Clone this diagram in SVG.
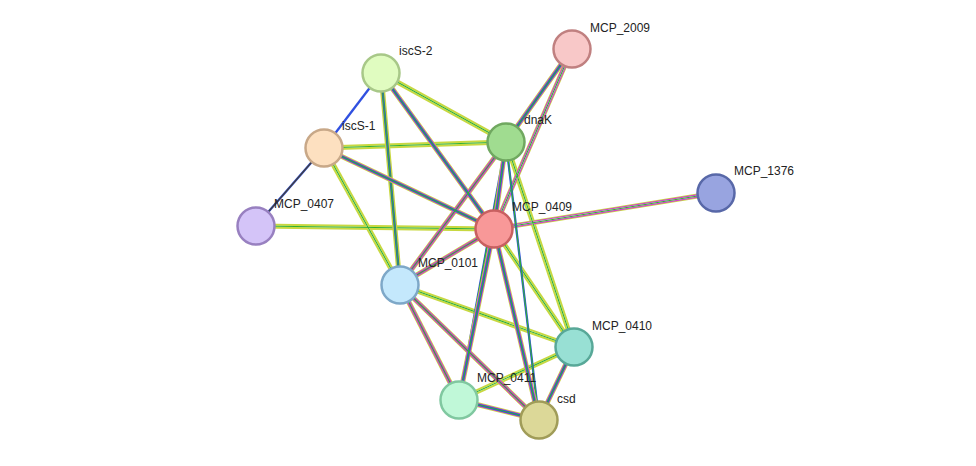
<svg xmlns="http://www.w3.org/2000/svg" width="976" height="466" viewBox="0 0 976 466">
<style>
.y{stroke:#c8d840;stroke-width:5;fill:none}
.m{stroke:#d040d0;stroke-width:3.6;fill:none}
.b{stroke:#3050e0;stroke-width:2.3;fill:none}
.g{stroke:#30b030;stroke-width:1.1;fill:none}
.w{stroke:#fff;stroke-width:1.2;fill:none}
.k{stroke:#404040;stroke-width:1.3;fill:none}
.n circle{stroke-width:2.5}
text{font-family:"Liberation Sans",Arial,sans-serif;font-size:12px;fill:#222}
</style>
<defs>
<line id="e_i2_i1" x1="381" y1="73" x2="324" y2="148"/>
<line id="e_i2_d" x1="381" y1="73" x2="506" y2="142"/>
<line id="e_i2_09" x1="381" y1="73" x2="494" y2="229"/>
<line id="e_i2_01" x1="381" y1="73" x2="400" y2="285"/>
<line id="e_i1_d" x1="324" y1="148" x2="506" y2="142"/>
<line id="e_i1_09" x1="324" y1="148" x2="494" y2="229"/>
<line id="e_i1_01" x1="324" y1="148" x2="400" y2="285"/>
<line id="e_i1_07" x1="324" y1="148" x2="256" y2="226"/>
<line id="e_07_09" x1="256" y1="226" x2="494" y2="229"/>
<line id="e_d_20" x1="506" y1="142" x2="572" y2="49"/>
<line id="e_09_20" x1="494" y1="229" x2="572" y2="49"/>
<line id="e_d_09" x1="506" y1="142" x2="494" y2="229"/>
<line id="e_d_01" x1="506" y1="142" x2="400" y2="285"/>
<line id="e_d_10" x1="506" y1="142" x2="574" y2="347"/>
<line id="e_d_11" x1="506" y1="142" x2="459" y2="400"/>
<line id="e_d_cs" x1="506" y1="142" x2="539" y2="420"/>
<line id="e_09_13" x1="494" y1="229" x2="716" y2="193"/>
<line id="e_09_01" x1="494" y1="229" x2="400" y2="285"/>
<line id="e_09_10" x1="494" y1="229" x2="574" y2="347"/>
<line id="e_09_11" x1="494" y1="229" x2="459" y2="400"/>
<line id="e_09_cs" x1="494" y1="229" x2="539" y2="420"/>
<line id="e_01_10" x1="400" y1="285" x2="574" y2="347"/>
<line id="e_01_11" x1="400" y1="285" x2="459" y2="400"/>
<line id="e_01_cs" x1="400" y1="285" x2="539" y2="420"/>
<line id="e_10_11" x1="574" y1="347" x2="459" y2="400"/>
<line id="e_10_cs" x1="574" y1="347" x2="539" y2="420"/>
<line id="e_11_cs" x1="459" y1="400" x2="539" y2="420"/>
</defs>
<rect width="976" height="466" fill="#fff"/>
<g id="connectors">
<g class="y"><use href="#e_i2_d"/><use href="#e_i1_01"/><use href="#e_07_09"/><use href="#e_d_10"/><use href="#e_09_10"/><use href="#e_01_10"/><use href="#e_10_11"/><use href="#e_i1_d"/><use href="#e_09_13"/><use href="#e_09_20"/></g>
<g class="m"><use href="#e_09_13"/><use href="#e_09_20"/></g>
<g class="w"><use href="#e_i2_d"/><use href="#e_i1_01"/><use href="#e_07_09"/><use href="#e_d_10"/><use href="#e_09_10"/><use href="#e_01_10"/><use href="#e_10_11"/><use href="#e_i1_d"/><use href="#e_09_13"/><use href="#e_09_20"/></g>
<g class="g"><use href="#e_i2_d"/><use href="#e_i1_01"/><use href="#e_07_09"/><use href="#e_d_10"/><use href="#e_09_10"/><use href="#e_01_10"/><use href="#e_10_11"/><use href="#e_i1_d"/><use href="#e_09_13"/><use href="#e_09_20"/></g>
<g class="y"><use href="#e_i2_01"/></g>
<g class="b"><use href="#e_i2_i1"/><use href="#e_i2_01"/><use href="#e_d_11"/><use href="#e_d_cs"/><use href="#e_i1_07"/></g>
<g class="g"><use href="#e_i2_01"/><use href="#e_d_11"/><use href="#e_d_cs"/></g>
<g class="k"><use href="#e_i1_07"/></g>
<g class="y"><use href="#e_i2_09"/><use href="#e_i1_09"/><use href="#e_d_20"/><use href="#e_d_09"/><use href="#e_d_01"/><use href="#e_09_01"/><use href="#e_09_11"/><use href="#e_09_cs"/><use href="#e_01_11"/><use href="#e_01_cs"/><use href="#e_10_cs"/><use href="#e_11_cs"/></g>
<g class="m"><use href="#e_i2_09"/><use href="#e_i1_09"/><use href="#e_d_20"/><use href="#e_d_09"/><use href="#e_d_01"/><use href="#e_09_01"/><use href="#e_09_11"/><use href="#e_09_cs"/><use href="#e_01_11"/><use href="#e_01_cs"/><use href="#e_10_cs"/><use href="#e_11_cs"/></g>
<g class="b"><use href="#e_i2_09"/><use href="#e_i1_09"/><use href="#e_d_20"/><use href="#e_d_09"/><use href="#e_09_11"/><use href="#e_09_cs"/><use href="#e_10_cs"/><use href="#e_11_cs"/></g>
<g class="g"><use href="#e_i2_09"/><use href="#e_i1_09"/><use href="#e_d_20"/><use href="#e_d_09"/><use href="#e_d_01"/><use href="#e_09_01"/><use href="#e_09_11"/><use href="#e_09_cs"/><use href="#e_01_11"/><use href="#e_01_cs"/><use href="#e_10_cs"/><use href="#e_11_cs"/></g>
</g>
<g id="MCP_2009" class="n"><circle cx="572" cy="49" r="18.5" fill="#f8c8c8" stroke="#c08080"/><text x="590" y="32">MCP_2009</text></g>
<g id="iscS-2" class="n"><circle cx="381" cy="73" r="18.5" fill="#e0fcc0" stroke="#a8c888"/><text x="399" y="55">iscS-2</text></g>
<g id="dnaK" class="n"><circle cx="506" cy="142" r="18.5" fill="#a0dc90" stroke="#70a860"/><text x="524" y="124">dnaK</text></g>
<g id="iscS-1" class="n"><circle cx="324" cy="148" r="18.5" fill="#fde0c0" stroke="#c8a888"/><text x="342" y="130">iscS-1</text></g>
<g id="MCP_1376" class="n"><circle cx="716" cy="193" r="18.5" fill="#98a4e0" stroke="#5868a8"/><text x="734" y="175">MCP_1376</text></g>
<g id="MCP_0407" class="n"><circle cx="256" cy="226" r="18.5" fill="#d4c4f8" stroke="#9880c0"/><text x="274" y="208">MCP_0407</text></g>
<g id="MCP_0409" class="n"><circle cx="494" cy="229" r="18.5" fill="#f89898" stroke="#c86060"/><text x="512" y="211">MCP_0409</text></g>
<g id="MCP_0101" class="n"><circle cx="400" cy="285" r="18.5" fill="#c4e8fc" stroke="#7ea8c8"/><text x="418" y="267">MCP_0101</text></g>
<g id="MCP_0410" class="n"><circle cx="574" cy="347" r="18.5" fill="#98e0d4" stroke="#58a898"/><text x="592" y="330">MCP_0410</text></g>
<g id="MCP_0411" class="n"><circle cx="459" cy="400" r="18.5" fill="#c0f8d8" stroke="#80c8a0"/><text x="477" y="382">MCP_0411</text></g>
<g id="csd" class="n"><circle cx="539" cy="420" r="18.5" fill="#dcd898" stroke="#a09c58"/><text x="557" y="403">csd</text></g>
</svg>
